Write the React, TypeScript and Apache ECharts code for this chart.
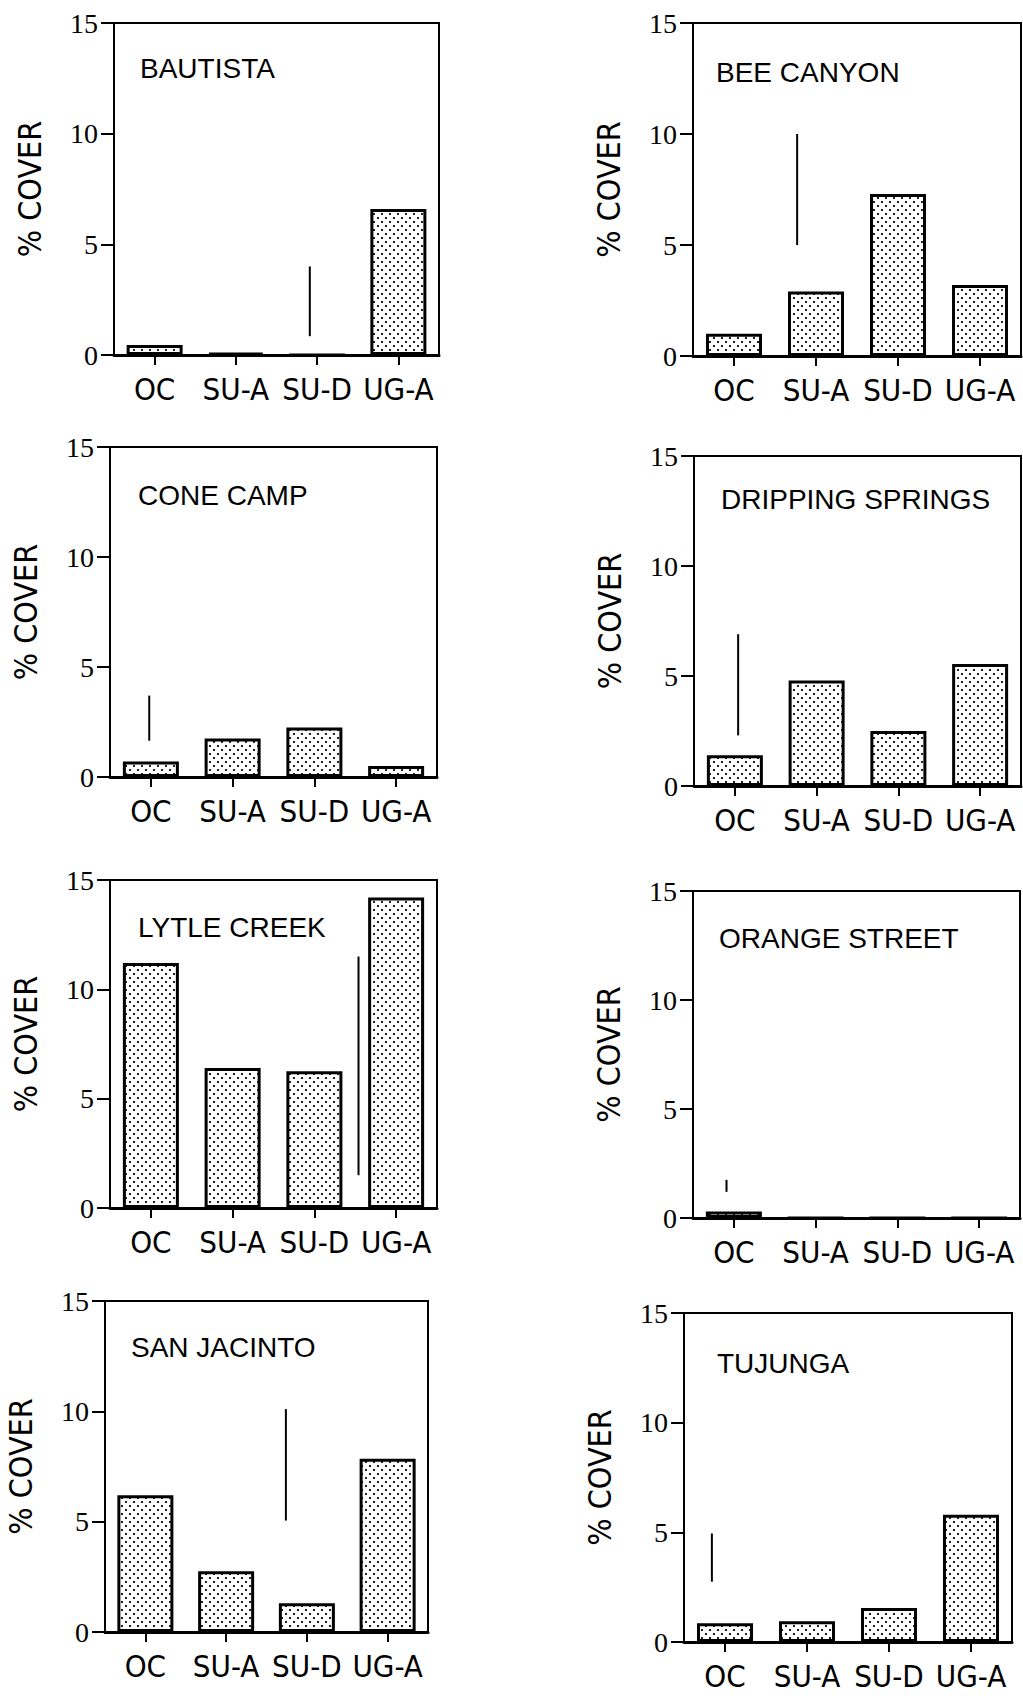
import React, { useEffect, useRef } from "react";
import * as echarts from "echarts";

// ---- data ----
const categories = ["OC", "SU-A", "SU-D", "UG-A"];
const siteNames = [
  "BAUTISTA",
  "BEE CANYON",
  "CONE CAMP",
  "DRIPPING SPRINGS",
  "LYTLE CREEK",
  "ORANGE STREET",
  "SAN JACINTO",
  "TUJUNGA",
];
const bautista = [0.45, 0.1, 0, 6.6];
const beeCanyon = [1.0, 2.9, 7.3, 3.2];
const coneCamp = [0.7, 1.75, 2.25, 0.5];
const drippingSprings = [1.4, 4.8, 2.5, 5.55];
const lytleCreek = [11.2, 6.4, 6.25, 14.2];
const orangeStreet = [0.3, 0, 0, 0];
const sanJacinto = [6.2, 2.75, 1.3, 7.85];
const tujunga = [0.85, 0.95, 1.55, 5.8];
const siteValues = [
  bautista,
  beeCanyon,
  coneCamp,
  drippingSprings,
  lytleCreek,
  orangeStreet,
  sanJacinto,
  tujunga,
];
// vertical reference (LSD) bars: position in category units, low and high value
const lsdX = [1.91, 0.77, -0.02, 0.04, 2.54, -0.09, 1.74, -0.16];
const lsdLow = [0.85, 5.0, 1.65, 2.3, 1.5, 1.2, 5.05, 2.75];
const lsdHigh = [4.0, 10.0, 3.7, 6.9, 11.5, 1.75, 10.1, 4.95];
const yMin = 0;
const yMax = 15;
const yStep = 5;
const yTitle = "% COVER";

// ---- layout (pixels) ----
const frames = [
  { l: 114, r: 439, t: 23, b: 355, tx: 140, ty: 68 },
  { l: 693, r: 1021, t: 23, b: 356, tx: 716, ty: 72 },
  { l: 110, r: 437, t: 447, b: 777, tx: 138, ty: 495 },
  { l: 694, r: 1021, t: 456, b: 786, tx: 721, ty: 499 },
  { l: 110, r: 437, t: 880, b: 1208, tx: 138, ty: 927 },
  { l: 693, r: 1020, t: 891, b: 1218, tx: 719, ty: 938 },
  { l: 105, r: 428, t: 1301, b: 1632, tx: 131, ty: 1347 },
  { l: 684, r: 1012, t: 1313, b: 1642, tx: 717, ty: 1363 },
];
const W = 1023;
const H = 1699;
const NARROW = "'Liberation Sans Narrow', 'DejaVu Sans Condensed', 'Liberation Sans', sans-serif";
const SANS = "'Liberation Sans', Arial, sans-serif";
const SERIF = "'Liberation Serif', 'Times New Roman', serif";

function makeDots(): HTMLCanvasElement {
  const c = document.createElement("canvas");
  c.width = 8;
  c.height = 8;
  const ctx = c.getContext("2d")!;
  ctx.fillStyle = "#ffffff";
  ctx.fillRect(0, 0, 8, 8);
  ctx.fillStyle = "#222222";
  ctx.fillRect(1, 1, 2, 2);
  ctx.fillRect(5, 5, 2, 2);
  return c;
}

export default function App() {
  const ref = useRef<HTMLDivElement>(null);
  useEffect(() => {
    if (!ref.current) return;
    const chart = echarts.init(ref.current, null, { renderer: "svg", width: W, height: H });
    const dots = makeDots();

    const grid: any[] = [];
    const xAxis: any[] = [];
    const yAxis: any[] = [];
    const series: any[] = [];
    const graphic: any[] = [];

    frames.forEach((f, i) => {
      grid.push({
        left: f.l,
        top: f.t,
        width: f.r - f.l,
        height: f.b - f.t,
        show: true,
        borderColor: "#000",
        borderWidth: 2,
        backgroundColor: "transparent",
        containLabel: false,
      });
      xAxis.push({
        type: "category",
        gridIndex: i,
        data: categories,
        position: "bottom",
        axisLine: { show: true, onZero: false, lineStyle: { color: "#000", width: 3 } },
        axisTick: { show: true, alignWithLabel: true, length: 10, lineStyle: { color: "#000", width: 2 } },
        axisLabel: { color: "#000", fontFamily: NARROW, fontSize: 31, margin: 18, interval: 0 },
        splitLine: { show: false },
      });
      xAxis.push({
        type: "value",
        gridIndex: i,
        min: -0.5,
        max: 3.5,
        show: false,
      });
      yAxis.push({
        type: "value",
        gridIndex: i,
        min: yMin,
        max: yMax,
        interval: yStep,
        position: "left",
        name: yTitle,
        nameLocation: "middle",
        nameGap: 68,
        nameTextStyle: { color: "#000", fontFamily: NARROW, fontSize: 32 },
        axisLine: { show: true, onZero: false, lineStyle: { color: "#000", width: 2 } },
        axisTick: { show: true, length: 13, lineStyle: { color: "#000", width: 2 } },
        axisLabel: { color: "#000", fontFamily: SERIF, fontSize: 28, margin: 16 },
        splitLine: { show: false },
      });
      series.push({
        type: "bar",
        xAxisIndex: 2 * i,
        yAxisIndex: i,
        data: siteValues[i],
        barWidth: 56,
        itemStyle: {
          color: { image: dots, repeat: "repeat" },
          borderColor: "#000",
          borderWidth: 3,
        },
        silent: true,
      });
      series.push({
        type: "line",
        xAxisIndex: 2 * i + 1,
        yAxisIndex: i,
        data: [
          [lsdX[i], lsdLow[i]],
          [lsdX[i], lsdHigh[i]],
        ],
        symbol: "none",
        lineStyle: { color: "#000", width: 2 },
        silent: true,
        z: 5,
      });
      graphic.push({
        type: "text",
        x: f.tx,
        y: f.ty,
        style: {
          text: siteNames[i],
          font: `28px ${SANS}`,
          fill: "#000",
          textVerticalAlign: "middle",
          textAlign: "left",
        },
      });
    });

    chart.setOption({
      animation: false,
      backgroundColor: "#fff",
      grid,
      xAxis,
      yAxis,
      series,
      graphic,
    });
    return () => chart.dispose();
  }, []);
  return (
    <div
      ref={ref}
      style={{ position: "absolute", left: 0, top: 0, width: W, height: H, background: "#fff" }}
    />
  );
}
